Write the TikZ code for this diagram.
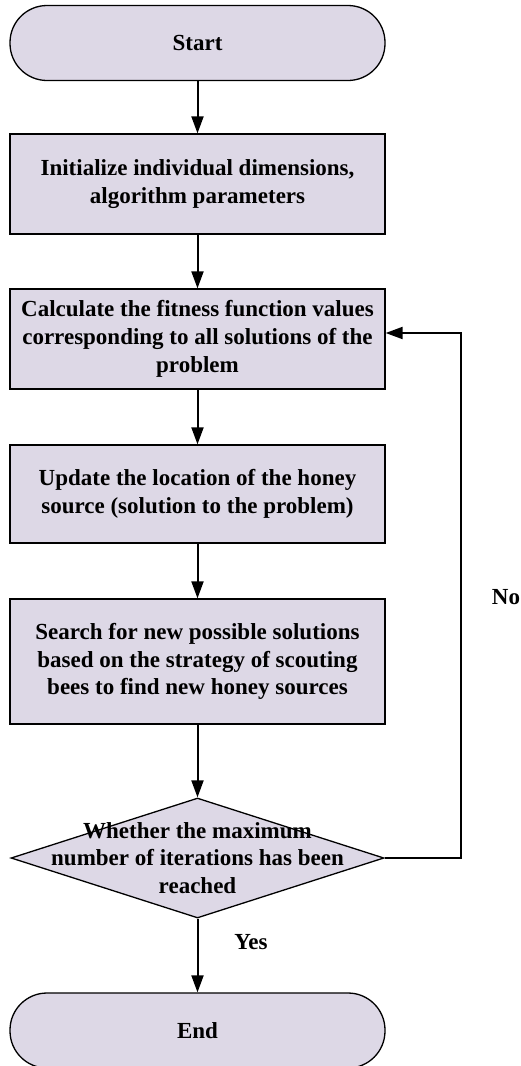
\documentclass[tikz,border=0pt]{standalone}
\usepackage{fontspec}
\setmainfont{Liberation Serif}
\usepackage{tikz}
\usetikzlibrary{shapes.geometric, arrows.meta}

\definecolor{boxfill}{RGB}{221,216,230}

\tikzset{
    terminal/.style={draw, line width=1.3pt, fill=boxfill, rectangle, rounded corners=37pt,
        minimum width=375pt, minimum height=75pt, inner sep=0pt},
    procbox/.style={draw, line width=1.3pt, fill=boxfill, rectangle,
        minimum width=375pt, inner sep=0pt, align=center},
    decision/.style={draw, line width=1.3pt, fill=boxfill, diamond,
        minimum width=373pt, minimum height=120pt, inner sep=0pt},
    flowarrow/.style={line width=2pt, -{Triangle[length=17pt,width=12pt]}},
    flowline/.style={line width=2pt},
}

\begin{document}
\begin{tikzpicture}[x=1pt, y=-1pt, font=\fontsize{23}{27.7}\selectfont\bfseries]
    \useasboundingbox (0,0) rectangle (520,1066);

    % Start and the steps
    \node[terminal] (start) at (197.5,43) {Start};
    \node[procbox, minimum height=100pt] (init) at (197.5,184)
        {Initialize individual dimensions,\\algorithm parameters};
    \node[procbox, minimum height=100pt] (calc) at (197.5,339)
        {Calculate the fitness function values\\corresponding to all solutions of the\\problem};
    \node[procbox, minimum height=98pt] (update) at (197.5,494)
        {Update the location of the honey\\source (solution to the problem)};
    \node[procbox, minimum height=125pt] (search) at (197.5,661.5)
        {Search for new possible solutions\\based on the strategy of scouting\\bees to find new honey sources};

    % Decision
    \node[decision] (dec) at (197.5,858) {};
    \node[align=center, inner sep=0pt] (dectext) at (dec.center)
        {Whether the maximum\\number of iterations has been\\reached};

    % End
    \node[terminal] (end) at (197.5,1030.5) {End};

    % Arrows
    \draw[flowarrow] (start) -- (init);
    \draw[flowarrow] (init) -- (calc);
    \draw[flowarrow] (calc) -- (update);
    \draw[flowarrow] (update) -- (search);
    \draw[flowarrow] (search) -- (dec);
    \draw[flowarrow] (dec) -- (end);

    % Loop back
    \coordinate (loopx) at (461,0);
    \draw[flowarrow] (dec.east) -- (dec.east -| loopx) |- ([yshift=6pt]calc.east);

    % Labels
    \node (yes) at (251,942) {Yes};
    \node (no) at (506,597) {No};
\end{tikzpicture}
\end{document}
